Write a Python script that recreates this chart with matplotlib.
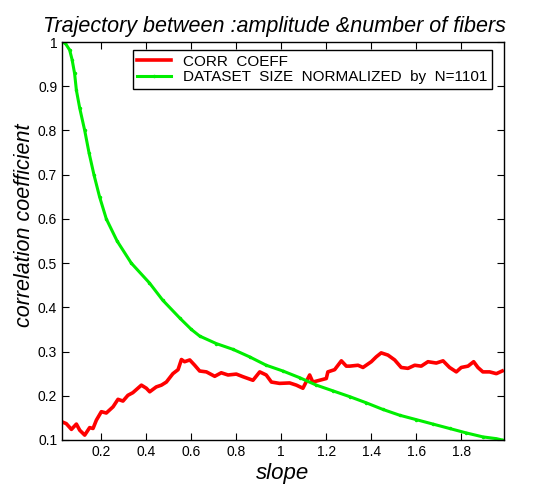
import matplotlib
matplotlib.use("Agg")
import matplotlib.pyplot as plt
from matplotlib.ticker import FormatStrFormatter, MultipleLocator

plt.rcParams['font.family'] = ['Liberation Sans', 'DejaVu Sans']

# dataset size normalized by N=1101 (green)
size_x = [0.025, 0.04, 0.059, 0.07, 0.081, 0.089, 0.104, 0.126, 0.145, 0.167,
          0.192, 0.222, 0.27, 0.333, 0.414, 0.473, 0.55, 0.60, 0.637, 0.711,
          0.785, 0.859, 0.933, 1.007, 1.081, 1.156, 1.23, 1.304, 1.378, 1.452,
          1.526, 1.6, 1.674, 1.748, 1.822, 1.896, 1.956, 1.982]
size_y = [1.0, 0.997, 0.982, 0.96, 0.929, 0.891, 0.85, 0.80, 0.75, 0.70,
          0.65, 0.60, 0.55, 0.50, 0.455, 0.416, 0.375, 0.35, 0.335, 0.318,
          0.305, 0.288, 0.269, 0.256, 0.241, 0.224, 0.211, 0.198, 0.184, 0.169,
          0.156, 0.146, 0.136, 0.126, 0.116, 0.107, 0.103, 0.100]

# correlation coefficient (red)
corr_x = [0.025, 0.044, 0.067, 0.089, 0.104, 0.126, 0.148, 0.163, 0.178, 0.2,
          0.222, 0.252, 0.274, 0.296, 0.318, 0.34, 0.378, 0.4, 0.415, 0.444,
          0.467, 0.489, 0.518, 0.541, 0.556, 0.57, 0.593, 0.615, 0.637, 0.667,
          0.704, 0.733, 0.763, 0.8, 0.83, 0.874, 0.904, 0.933, 0.956, 0.992,
          1.037, 1.067, 1.096, 1.126, 1.14, 1.17, 1.2, 1.207, 1.237, 1.267,
          1.289, 1.304, 1.341, 1.363, 1.4, 1.422, 1.444, 1.474, 1.504, 1.533,
          1.563, 1.593, 1.622, 1.652, 1.689, 1.719, 1.748, 1.778, 1.8, 1.83,
          1.855, 1.874, 1.896, 1.926, 1.956, 1.982]
corr_y = [0.141, 0.137, 0.124, 0.136, 0.122, 0.111, 0.128, 0.126, 0.145, 0.164,
          0.161, 0.175, 0.192, 0.188, 0.201, 0.207, 0.224, 0.217, 0.209, 0.220,
          0.224, 0.231, 0.250, 0.259, 0.282, 0.277, 0.281, 0.269, 0.256, 0.254,
          0.244, 0.252, 0.247, 0.249, 0.243, 0.235, 0.254, 0.247, 0.231, 0.228,
          0.229, 0.224, 0.217, 0.247, 0.231, 0.235, 0.239, 0.254, 0.259, 0.279,
          0.267, 0.267, 0.269, 0.264, 0.277, 0.288, 0.297, 0.292, 0.281, 0.264,
          0.262, 0.269, 0.267, 0.277, 0.274, 0.279, 0.264, 0.254, 0.264, 0.267,
          0.277, 0.264, 0.254, 0.254, 0.250, 0.256]

fig = plt.figure(figsize=(5.33, 4.88), dpi=100)
ax = fig.add_axes([0.1163, 0.0984, 0.8293, 0.8155])

ax.plot(corr_x, corr_y, color='red', lw=2.6, label='CORR  COEFF')
ax.plot(size_x, size_y, color='#00ee00', lw=2.2, marker='.', ms=3,
        label='DATASET  SIZE  NORMALIZED  by  N=1101')

ax.set_xlim(0.025, 1.99)
ax.set_ylim(0.1, 1.0)
ax.xaxis.set_major_locator(MultipleLocator(0.2))
ax.yaxis.set_major_locator(MultipleLocator(0.1))
ax.xaxis.set_major_formatter(FormatStrFormatter('%g'))
ax.yaxis.set_major_formatter(FormatStrFormatter('%g'))
ax.tick_params(direction='in', top=True, right=True, labelsize=10, length=5)
for s in ax.spines.values():
    s.set_linewidth(1)

ax.set_title('Trajectory between :amplitude &number of fibers', fontsize=15.5,
             style='italic', pad=7, x=0.48)
ax.set_xlabel('slope', fontsize=16, style='italic', labelpad=3)
ax.set_ylabel('correlation coefficient', fontsize=15.5, style='italic',
              labelpad=2, y=0.54)

leg = ax.legend(loc='upper right', bbox_to_anchor=(0.973, 0.98), fontsize=11,
                fancybox=False, edgecolor='black', framealpha=1,
                handlelength=2.2, borderpad=0.3, labelspacing=0.12,
                borderaxespad=0)
leg.get_frame().set_linewidth(1)

fig.savefig('out.png', dpi=100)
